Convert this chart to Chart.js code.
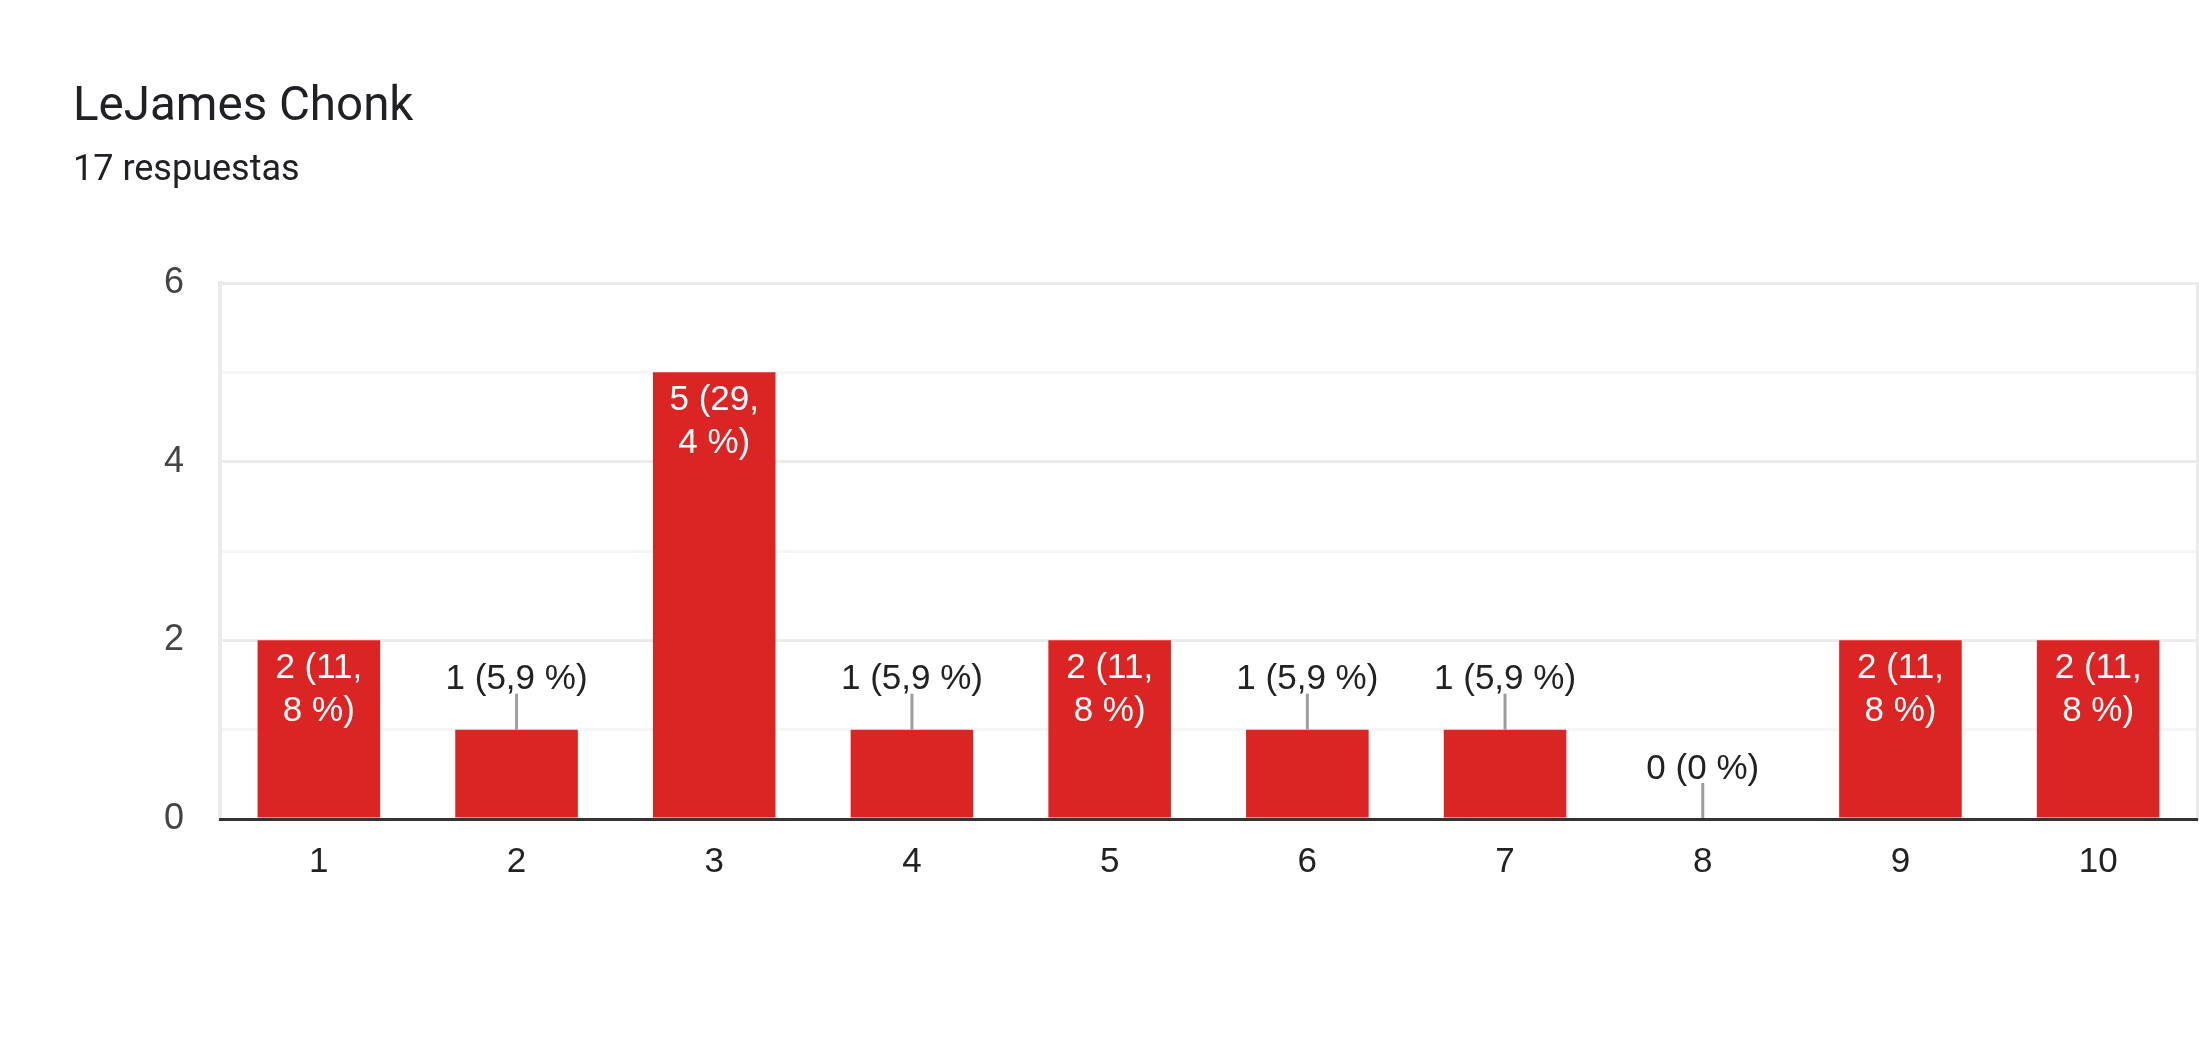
<!DOCTYPE html>
<html lang="es">
  <head>
    <meta charset="UTF-8" />
    <title>LeJames Chonk</title>
    <script src="https://cdn.jsdelivr.net/npm/chart.js"></script>
    <style>
      * {
        margin: 0;
        padding: 0;
      }
      body {
        background: #fff;
        width: 2199px;
        height: 1044px;
        overflow: hidden;
        position: relative;
      }
      .title,
      .sub {
        position: absolute;
        left: 73px;
        font-family: Roboto, 'Noto Sans', sans-serif;
        color: #202124;
        white-space: nowrap;
      }
      .title {
        top: 80px;
        font-size: 47.5px;
        line-height: 48px;
      }
      .sub {
        top: 150px;
        font-size: 36px;
        line-height: 36px;
      }
      #chart {
        position: absolute;
        left: 0;
        top: 0;
      }
    </style>
  </head>
  <body>
    <canvas id="chart" width="2199" height="1044"></canvas>
    <div class="title">LeJames Chonk</div>
    <div class="sub">17 respuestas</div>
  </body>
</html>

<script>
  // datos
  const categories = ['1', '2', '3', '4', '5', '6', '7', '8', '9', '10'];
  const counts = [2, 1, 5, 1, 2, 1, 1, 0, 2, 2];
  const yTicks = [0, 2, 4, 6];

  const total = counts.reduce((a, b) => a + b, 0);
  const labelFont = '35px "Liberation Sans", Arial, sans-serif';

  function pctText(v) {
    const p = Math.round((v / total) * 1000) / 10;
    const s = Number.isInteger(p) ? String(p) : p.toFixed(1).replace('.', ',');
    return v + ' (' + s + ' %)';
  }

  function wrap(ctx, text, maxW) {
    const pieces = text.match(/[^ ,]+[ ,]?/g);
    const lines = [];
    let line = '';
    pieces.forEach((p) => {
      if (line && ctx.measureText((line + p).trimEnd()).width > maxW) {
        lines.push(line.trim());
        line = p;
      } else {
        line += p;
      }
    });
    lines.push(line.trim());
    return lines;
  }

  /*====  ETIQUETAS ============================ */
  const barLabels = {
    id: 'barLabels',
    afterDatasetsDraw(chart) {
      const ctx = chart.ctx;
      const meta = chart.getDatasetMeta(0);
      const lineH = 43;
      ctx.save();
      ctx.font = labelFont;
      ctx.textAlign = 'center';
      meta.data.forEach((bar, i) => {
        const txt = pctText(counts[i]);
        const h = bar.base - bar.y;
        if (h > 2 * lineH + 10) {
          const lines = wrap(ctx, txt, bar.width - 24);
          ctx.fillStyle = '#ffffff';
          ctx.textBaseline = 'alphabetic';
          lines.forEach((l, k) => ctx.fillText(l, bar.x, bar.y + 38 + k * lineH));
        } else {
          ctx.strokeStyle = '#9e9e9e';
          ctx.lineWidth = 3;
          ctx.beginPath();
          ctx.moveTo(bar.x, bar.y);
          ctx.lineTo(bar.x, bar.y - 36);
          ctx.stroke();
          ctx.fillStyle = '#222222';
          ctx.textBaseline = 'middle';
          ctx.fillText(txt, bar.x, bar.y - 50);
        }
      });
      ctx.restore();
    }
  };

  var ctx = document.getElementById('chart').getContext('2d');
  var myChart = new Chart(ctx, {
    type: 'bar',
    data: {
      labels: categories,
      datasets: [
        {
          data: counts,
          backgroundColor: '#db2424',
          borderWidth: 0,
          barPercentage: 0.62,
          categoryPercentage: 1
        }
      ]
    },
    options: {
      responsive: false,
      animation: false,
      devicePixelRatio: 1,
      layout: { padding: { top: 283, right: 2, bottom: 145, left: 0 } },
      plugins: {
        legend: { display: false },
        tooltip: { enabled: false }
      },
      scales: {
        x: {
          grid: { display: false, drawTicks: false },
          border: { display: true, color: '#333333', width: 3, z: 1 },
          ticks: {
            color: '#222222',
            font: { family: '"Liberation Sans", Arial, sans-serif', size: 35 },
            padding: 22,
            maxRotation: 0
          },
          afterFit(s) {
            s.height = 80;
          }
        },
        y: {
          min: 0,
          max: 6,
          ticks: {
            stepSize: 1,
            callback: (v) => (yTicks.includes(v) ? v : ''),
            color: '#444444',
            font: { family: '"Liberation Sans", Arial, sans-serif', size: 36 },
            padding: 36
          },
          grid: {
            color: (c) => (c.tick && c.tick.value % 2 === 0 ? '#ebebeb' : '#f5f5f5'),
            lineWidth: 3,
            drawTicks: false
          },
          border: { color: '#ebebeb', width: 4 },
          afterFit(s) {
            s.width = 220;
          }
        },
        yr: {
          position: 'right',
          min: 0,
          max: 6,
          ticks: { display: false },
          grid: { display: false, drawTicks: false },
          border: { color: '#ebebeb', width: 3 },
          afterFit(s) {
            s.width = 0;
          }
        }
      }
    },
    plugins: [barLabels]
  });
</script>
